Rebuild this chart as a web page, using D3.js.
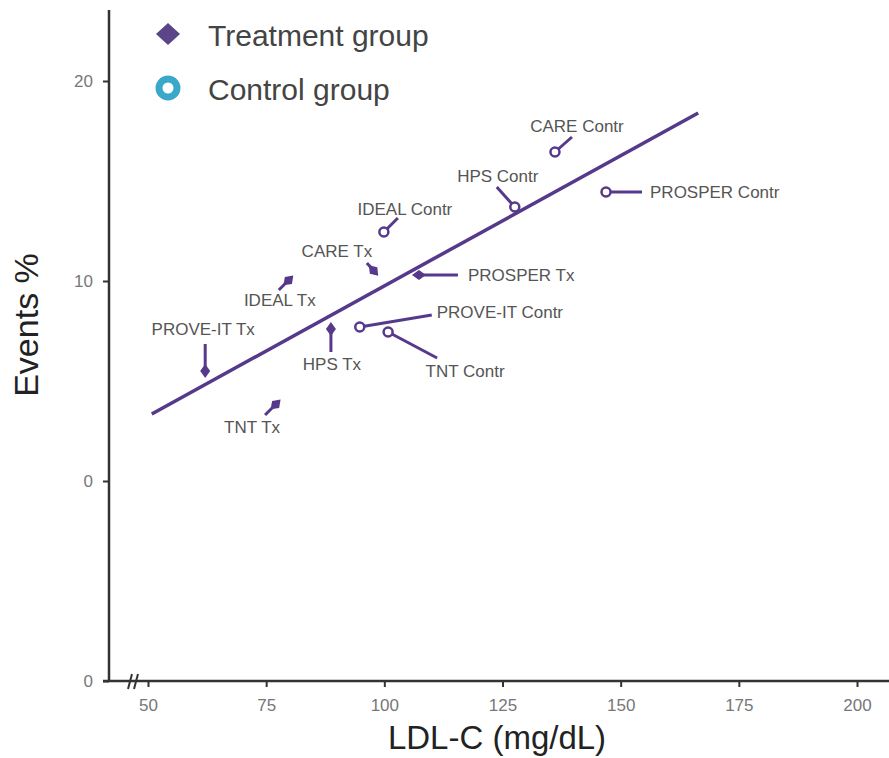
<!DOCTYPE html>
<html>
<head>
<meta charset="utf-8">
<script src="https://cdn.jsdelivr.net/npm/d3@7"></script>
<style>
  body { margin: 0; background: #fff; }
  svg { display: block; font-family: 'Liberation Sans', Arial, sans-serif; }
</style>
</head>
<body>
<div id="chart"></div>
<script>
// values
const studies = ['CARE', 'HPS', 'IDEAL', 'PROSPER', 'PROVE-IT', 'TNT']
const txLDL = [98, 88.7, 80, 106.9, 62.1, 77.3]
const txEvents = [10.45, 7.7, 10.1, 10.3, 5.4, 3.9]
const ctrlLDL = [136.1, 127.6, 99.9, 146.9, 94.8, 100.8]
const ctrlEvents = [16.45, 13.7, 12.45, 14.45, 7.7, 7.45]
const fitLDL = [50.8, 166.4]
const fitEvents = [3.35, 18.4]
const xTicks = [50, 75, 100, 125, 150, 175, 200]
const yTicks = [-10, 0, 10, 20]
const yTickLabels = ['0', '0', '10', '20']

// label placement: leader end (lx, ly) and text (tx, ty) relative to the point, in px
const txLayout = {
  CARE: { lx: -8, ly: -9, tx: -38, ty: -15, anchor: 'middle' },
  HPS: { lx: 0, ly: 25, tx: 1, ty: 43, anchor: 'middle' },
  IDEAL: { lx: -11, ly: 11, tx: -10, ty: 27, anchor: 'middle' },
  PROSPER: { lx: 41, ly: 0, tx: 51, ty: 6, anchor: 'start' },
  'PROVE-IT': { lx: 0, ly: -29, tx: -2, ty: -38, anchor: 'middle' },
  TNT: { lx: -12, ly: 12, tx: -25, ty: 30, anchor: 'middle' }
}
const ctrlLayout = {
  CARE: { lx: 17, ly: -15, tx: 22, ty: -20, anchor: 'middle' },
  HPS: { lx: -18, ly: -20, tx: -17, ty: -25, anchor: 'middle' },
  IDEAL: { lx: 14, ly: -14, tx: 21, ty: -17, anchor: 'middle' },
  PROSPER: { lx: 36, ly: 0, tx: 44, ty: 6, anchor: 'start' },
  'PROVE-IT': { lx: 72, ly: -12, tx: 77, ty: -9, anchor: 'start' },
  TNT: { lx: 49, ly: 26, tx: 77, ty: 45, anchor: 'middle' }
}

const W = 889
const H = 758
const purple = '#56398a'
const axisColor = '#333'
const axisX = 109
const axisY = 681

const svg = d3.select('#chart')
  .append('svg')
  .attr('width', W)
  .attr('height', H)

const x = d3.scaleLinear().domain([50, 200]).range([148, 857])
const y = d3.scaleLinear().domain([-10, 20]).range([681, 81])

// axes
const xAxis = svg.append('g')
  .attr('transform', `translate(0,${axisY})`)
  .call(d3.axisBottom(x).tickValues(xTicks).tickSize(6).tickSizeOuter(0).tickPadding(12))
xAxis.select('.domain').remove()
xAxis.selectAll('line').attr('stroke', axisColor).attr('stroke-width', 2)
xAxis.selectAll('text')
  .attr('fill', '#777')
  .attr('font-size', 17)
  .attr('font-family', 'Liberation Sans, Arial, sans-serif')

const yAxis = svg.append('g')
  .attr('transform', `translate(${axisX},0)`)
  .call(d3.axisLeft(y).tickValues(yTicks).tickFormat((d, i) => yTickLabels[i]).tickSize(6).tickSizeOuter(0).tickPadding(10))
yAxis.select('.domain').remove()
yAxis.selectAll('line').attr('stroke', axisColor).attr('stroke-width', 2)
yAxis.selectAll('text')
  .attr('fill', '#777')
  .attr('font-size', 17)
  .attr('font-family', 'Liberation Sans, Arial, sans-serif')

svg.append('line')
  .attr('x1', axisX).attr('x2', axisX)
  .attr('y1', 10).attr('y2', axisY + 1)
  .attr('stroke', axisColor)
  .attr('stroke-width', 2.5)

svg.append('line')
  .attr('x1', axisX - 6).attr('x2', W)
  .attr('y1', axisY).attr('y2', axisY)
  .attr('stroke', axisColor)
  .attr('stroke-width', 2.5)

// axis break mark
svg.append('g')
  .selectAll('line')
  .data([128, 134])
  .enter()
  .append('line')
  .attr('x1', d => d).attr('y1', axisY + 8)
  .attr('x2', d => d + 4).attr('y2', axisY - 7)
  .attr('stroke', axisColor)
  .attr('stroke-width', 2)

// axis titles
svg.append('text')
  .attr('x', 497)
  .attr('y', 749)
  .attr('text-anchor', 'middle')
  .attr('font-size', 33)
  .attr('fill', '#222')
  .text('LDL-C (mg/dL)')

svg.append('text')
  .attr('transform', 'translate(38,325) rotate(-90)')
  .attr('text-anchor', 'middle')
  .attr('font-size', 34)
  .attr('fill', '#222')
  .text('Events %')

// regression line
svg.append('line')
  .attr('x1', x(fitLDL[0])).attr('y1', y(fitEvents[0]))
  .attr('x2', x(fitLDL[1])).attr('y2', y(fitEvents[1]))
  .attr('stroke', purple)
  .attr('stroke-width', 3.5)

const txData = studies.map((s, i) => ({ name: `${s} Tx`, ldl: txLDL[i], ev: txEvents[i], lay: txLayout[s] }))
const ctrlData = studies.map((s, i) => ({ name: `${s} Contr`, ldl: ctrlLDL[i], ev: ctrlEvents[i], lay: ctrlLayout[s] }))

const drawGroup = (data, cls) => {
  const g = svg.selectAll(`.${cls}`)
    .data(data)
    .enter()
    .append('g')
    .attr('class', cls)
    .attr('transform', d => `translate(${x(d.ldl)},${y(d.ev)})`)

  g.append('line')
    .attr('x1', 0).attr('y1', 0)
    .attr('x2', d => d.lay.lx).attr('y2', d => d.lay.ly)
    .attr('stroke', purple)
    .attr('stroke-width', 3)

  g.append('text')
    .attr('x', d => d.lay.tx)
    .attr('y', d => d.lay.ty)
    .attr('text-anchor', d => d.lay.anchor)
    .attr('font-size', 17)
    .attr('fill', '#555')
    .text(d => d.name)
  return g
}

// treatment marker: small rhombus stretched along its leader
const txG = drawGroup(txData, 'tx')
txG.append('path')
  .attr('d', 'M-5,0L2,-5L9,0L2,5Z')
  .attr('transform', d => `rotate(${Math.atan2(d.lay.ly, d.lay.lx) * 180 / Math.PI})`)
  .attr('fill', purple)

const ctrlG = drawGroup(ctrlData, 'ctrl')
ctrlG.append('circle')
  .attr('r', 4.5)
  .attr('fill', '#fff')
  .attr('stroke', purple)
  .attr('stroke-width', 2.5)

// legend
const legend = svg.append('g')
legend.append('path')
  .attr('transform', 'translate(168,34)')
  .attr('d', 'M0,-11L12,0L0,11L-12,0Z')
  .attr('fill', '#5b4487')
legend.append('circle')
  .attr('cx', 168).attr('cy', 88)
  .attr('r', 9)
  .attr('fill', '#fff')
  .attr('stroke', '#3aa8c8')
  .attr('stroke-width', 7)
legend.selectAll('.lt')
  .data(['Treatment group', 'Control group'])
  .enter()
  .append('text')
  .attr('class', 'lt')
  .attr('x', 208)
  .attr('y', (d, i) => 46 + i * 54)
  .attr('font-size', 30)
  .attr('fill', '#444')
  .text(d => d)
</script>
</body>
</html>
